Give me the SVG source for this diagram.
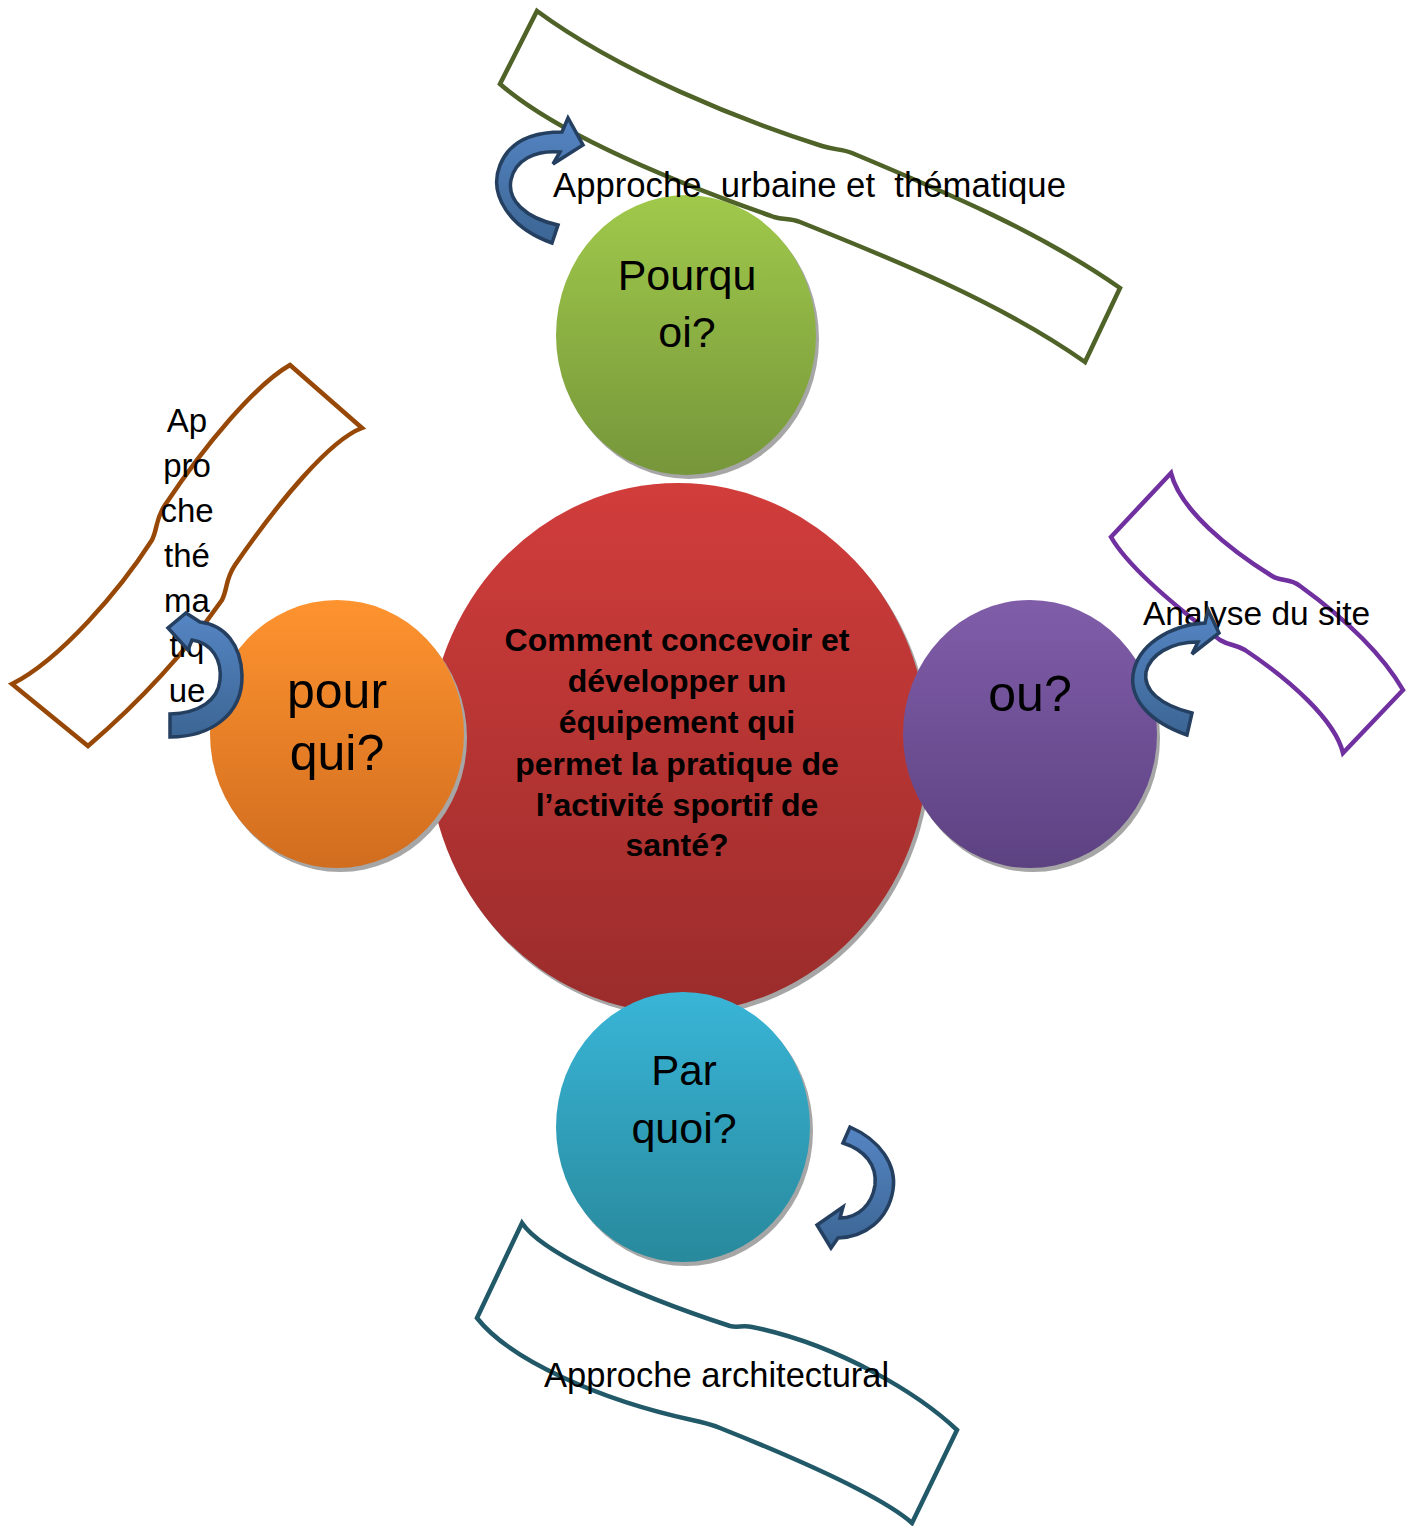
<svg xmlns="http://www.w3.org/2000/svg" width="1413" height="1526" viewBox="0 0 1413 1526">
<defs>
<linearGradient id="gRed" x1="0" y1="0" x2="0" y2="1"><stop offset="0" stop-color="#d13d3b"/><stop offset="1" stop-color="#9a2c2b"/></linearGradient>
<linearGradient id="gGreen" x1="0" y1="0" x2="0" y2="1"><stop offset="0" stop-color="#a0c94b"/><stop offset="1" stop-color="#76963a"/></linearGradient>
<linearGradient id="gOrange" x1="0" y1="0" x2="0" y2="1"><stop offset="0" stop-color="#fe932f"/><stop offset="1" stop-color="#d16d1f"/></linearGradient>
<linearGradient id="gPurple" x1="0" y1="0" x2="0" y2="1"><stop offset="0" stop-color="#805da9"/><stop offset="1" stop-color="#5d4282"/></linearGradient>
<linearGradient id="gBlue" x1="0" y1="0" x2="0" y2="1"><stop offset="0" stop-color="#39b5d7"/><stop offset="1" stop-color="#28899c"/></linearGradient>
<linearGradient id="gArrow" x1="0" y1="0" x2="0" y2="1"><stop offset="0" stop-color="#5585c4"/><stop offset="1" stop-color="#3b6593"/></linearGradient>
<style>
.shadow{fill:#a6a6a6}
.arrow{fill:url(#gArrow);stroke:#243f60;stroke-width:3.5;stroke-linejoin:miter}
.banner{fill:none;stroke-width:4.5;stroke-linejoin:miter}
.lbl{font-family:"Liberation Sans",Arial,sans-serif;fill:#000;text-anchor:middle}
.q{font-family:"Liberation Sans",Arial,sans-serif;font-weight:bold;font-size:32px;fill:#000;text-anchor:middle}
.bt{font-family:"Liberation Sans",Arial,sans-serif;fill:#000;white-space:pre}
</style>
</defs>

<g id="center">
<ellipse class="shadow" cx="681" cy="752" rx="250" ry="265"/>
<ellipse cx="678" cy="748" rx="250" ry="265" fill="url(#gRed)"/>
<text class="q" x="677" y="651">Comment concevoir et</text>
<text class="q" x="677" y="692">développer un</text>
<text class="q" x="677" y="733">équipement qui</text>
<text class="q" x="677" y="775">permet la pratique de</text>
<text class="q" x="677" y="816">l’activité sportif de</text>
<text class="q" x="677" y="856">santé?</text>
</g>

<g id="pourquoi">
<ellipse class="shadow" cx="689" cy="339" rx="130" ry="140"/>
<ellipse cx="686" cy="335" rx="130" ry="140" fill="url(#gGreen)"/>
<text class="lbl" x="687" y="290" font-size="43">Pourqu</text>
<text class="lbl" x="687" y="347" font-size="43">oi?</text>
</g>

<g id="pourqui">
<ellipse class="shadow" cx="340" cy="738" rx="127" ry="134"/>
<ellipse cx="337" cy="734" rx="127" ry="134" fill="url(#gOrange)"/>
<text class="lbl" x="337" y="708" font-size="50">pour</text>
<text class="lbl" x="337" y="770" font-size="50">qui?</text>
</g>

<g id="ou">
<ellipse class="shadow" cx="1033" cy="738" rx="127" ry="134"/>
<ellipse cx="1030" cy="734" rx="127" ry="134" fill="url(#gPurple)"/>
<text class="lbl" x="1030" y="711" font-size="50">ou?</text>
</g>

<g id="parquoi">
<ellipse class="shadow" cx="686" cy="1131" rx="127" ry="135"/>
<ellipse cx="683" cy="1127" rx="127" ry="135" fill="url(#gBlue)"/>
<text class="lbl" x="684" y="1085" font-size="42">Par</text>
<text class="lbl" x="684" y="1143" font-size="43">quoi?</text>
</g>

<g id="banner-urbaine">
<path class="banner" stroke="#4f6228" d="M537,11 C620,72 740,120 822,146 C835,150 842,149 852,153 C945,192 1040,232 1120,288 L1085,362 C1000,302 890,258 800,222 C790,218 784,220 774,217 C680,184 560,136 500,84 Z"/>
<text class="bt" x="553" y="197" font-size="34.7">Approche  urbaine et  thématique</text>
</g>

<g id="banner-thematique">
<path class="banner" stroke="#974806" d="M290,365 L362,428 C330,440 280,500 235,565 C225,580 228,588 222,600 C180,660 130,710 88,746 L12,684 C60,660 120,590 152,540 C158,528 155,520 165,505 C205,445 255,385 290,365 Z"/>
<text class="lbl" font-size="33"><tspan x="187" y="432">Ap</tspan><tspan x="187" y="477">pro</tspan><tspan x="187" y="522">che</tspan><tspan x="187" y="567">thé</tspan><tspan x="187" y="612">ma</tspan><tspan x="187" y="657">tiq</tspan><tspan x="187" y="702">ue</tspan></text>
</g>

<g id="banner-site">
<path class="banner" stroke="#7030a0" d="M1171,473 C1180,510 1230,550 1272,576 C1282,582 1290,578 1300,586 C1340,615 1380,650 1403,690 L1343,753 C1335,720 1290,680 1245,650 C1235,644 1230,646 1220,640 C1180,610 1130,570 1111,537 Z"/>
<text class="bt" x="1143" y="625" font-size="33.5">Analyse du site</text>
</g>

<g id="banner-archi">
<path class="banner" stroke="#215968" d="M522,1223 C540,1250 620,1290 730,1326 C738,1328 742,1325 752,1327 C840,1345 920,1395 957,1430 L912,1523 C880,1495 800,1460 720,1428 C710,1424 702,1422 692,1420 C600,1400 510,1360 477,1318 Z"/>
<text class="bt" x="544" y="1387" font-size="34.5">Approche architectural</text>
</g>

<g id="connectors">
<path class="arrow" d="M552,243 C510,228 488,195 500,165 C510,140 535,132 562,132 L568,118 L583,145 L553,164 L560,152 C535,150 515,160 511,180 C507,200 525,218 558,225 Z"/>
<path class="arrow" d="M170,737 C210,737 243,715 242,675 C241,645 225,625 200,622 L186,613 L168,628 L188,650 L192,640 C212,643 222,660 220,680 C218,700 200,713 170,714 Z"/>
<path class="arrow" d="M1187,735 C1150,722 1130,700 1133,675 C1137,645 1170,625 1205,623 L1208,610 L1219,633 L1192,654 L1198,642 C1170,642 1150,655 1146,672 C1143,690 1160,705 1192,713 Z"/>
<path class="arrow" d="M850,1127 C880,1140 897,1165 893,1190 C888,1220 865,1237 838,1238 L831,1248 L817,1225 L843,1207 L840,1218 C858,1218 872,1205 875,1185 C877,1165 865,1150 843,1143 Z"/>
</g>
</svg>
